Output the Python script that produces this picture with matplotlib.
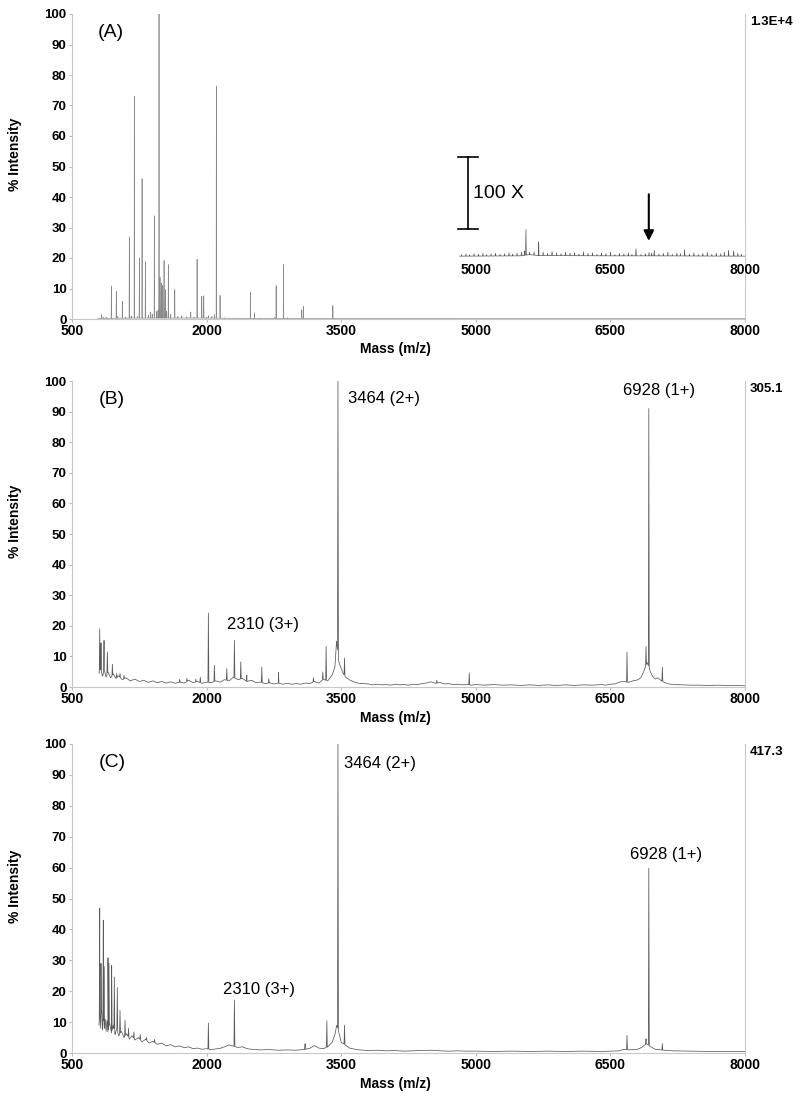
import numpy as np
import matplotlib
matplotlib.use('Agg')
import matplotlib.pyplot as plt

plt.rcParams['font.family'] = ['Liberation Sans', 'DejaVu Sans']

# ---- data (mass m/z, % intensity) ----
mass_ticks = [500, 2000, 3500, 5000, 6500, 8000]
inset_ticks = [5000, 6500, 8000]
panel_tags = ['(A)', '(B)', '(C)']
full_scale = ['1.3E+4', '305.1', '417.3']

# panel A: main spectrum
a_base_m = [780, 800, 1200, 1600, 2000, 2400, 2800, 3200, 3600, 4000, 5000, 6000, 7000, 8000]
a_base_y = [0.0, 0.2, 0.3, 0.3, 0.3, 0.2, 0.2, 0.2, 0.15, 0.15, 0.1, 0.1, 0.1, 0.1]
a_peaks = [(831, 1.4), (850, 0.5), (880, 0.6), (939, 10.7), (994, 9.0), (1010, 0.8),
           (1061, 5.8), (1100, 0.6), (1139, 26.8), (1160, 1.0), (1195, 73.0), (1230, 0.8),
           (1251, 20.0), (1281, 46.0), (1318, 18.8), (1350, 1.2), (1377, 2.3), (1395, 1.5),
           (1418, 33.8), (1445, 2.5), (1460, 3.0), (1470, 100.0), (1481, 13.7), (1496, 11.8),
           (1511, 11.0), (1526, 19.2), (1541, 9.6), (1555, 2.5), (1574, 17.8), (1600, 1.5),
           (1645, 9.6), (1680, 0.8), (1723, 1.0), (1780, 0.7), (1823, 2.3), (1860, 0.6),
           (1894, 19.6), (1946, 7.4), (1968, 7.6), (2000, 0.5), (2020, 1.1), (2060, 0.8),
           (2087, 1.4), (2109, 76.3), (2150, 7.7), (2200, 0.4), (2300, 0.3), (2489, 8.7),
           (2533, 2.0), (2600, 0.3), (2760, 0.5), (2775, 10.9), (2857, 17.8), (2900, 0.4),
           (3061, 3.0), (3080, 4.1), (3407, 4.4)]

# panel A: 100 X inset (magnified intensity)
inset_base_m = [4820, 5500, 5540, 5600, 5700, 6500, 7000, 8000]
inset_base_y = [0.3, 0.4, 0.6, 0.8, 0.5, 0.4, 0.4, 0.3]
inset_peaks = [(4840, 0.8), (4890, 1.0), (4930, 0.7), (4980, 1.1), (5030, 0.9), (5080, 1.2),
               (5120, 0.8), (5170, 1.0), (5220, 1.3), (5270, 0.9), (5320, 1.1), (5370, 1.4),
               (5410, 1.0), (5460, 1.3), (5510, 1.6), (5540, 2.0), (5559, 9.0), (5600, 1.5),
               (5650, 1.7), (5700, 4.9), (5750, 1.6), (5800, 1.2), (5850, 1.8), (5900, 1.4),
               (5950, 1.1), (6000, 1.6), (6050, 1.3), (6100, 1.5), (6150, 1.0), (6200, 1.7),
               (6250, 1.2), (6300, 1.4), (6350, 0.9), (6400, 1.3), (6450, 1.1), (6500, 1.5),
               (6550, 0.8), (6600, 1.2), (6650, 1.0), (6700, 1.4), (6740, 0.9), (6785, 2.7),
               (6840, 0.8), (6890, 1.1), (6930, 1.5), (6960, 1.3), (6989, 2.2), (7040, 1.0),
               (7090, 1.2), (7140, 1.6), (7190, 0.9), (7240, 1.3), (7280, 1.1), (7327, 2.4),
               (7380, 1.0), (7430, 1.4), (7480, 0.8), (7530, 1.2), (7580, 1.5), (7630, 0.9),
               (7680, 1.3), (7730, 1.1), (7770, 1.6), (7817, 2.2), (7873, 2.0), (7920, 1.2),
               (7960, 0.9)]

# panel B
b_base_m = [800, 820, 840, 860, 880, 900, 930, 960, 990, 1020, 1060, 1100, 1150, 1200, 1250,
            1300, 1350, 1400, 1450, 1500, 1550, 1600, 1650, 1700, 1750, 1800, 1850, 1900,
            1950, 2000, 2050, 2100, 2150, 2200, 2250, 2300, 2350, 2400, 2450, 2500, 2550,
            2600, 2650, 2700, 2750, 2800, 2850, 2900, 2950, 3000, 3050, 3100, 3150, 3200,
            3250, 3300, 3350, 3400, 3430, 3448, 3475, 3500, 3520, 3550, 3600, 3650, 3700,
            3800, 3850, 3900, 3950, 4000, 4050, 4100, 4150, 4200, 4250, 4300, 4350, 4400,
            4450, 4500, 4550, 4600, 4650, 4700, 4750, 4800, 4850, 4900, 4950, 5000, 5100,
            5200, 5300, 5400, 5500, 5600, 5700, 5800, 5900, 6000, 6100, 6200, 6300, 6400,
            6450, 6500, 6550, 6600, 6650, 6700, 6750, 6800, 6840, 6870, 6910, 6945, 6970,
            7000, 7030, 7060, 7100, 7150, 7200, 7300, 7400, 7500, 7600, 7700, 7800, 7900, 8000]
b_base_y = [4.5, 6.0, 3.5, 5.5, 3.2, 4.8, 3.0, 4.2, 2.8, 3.6, 2.4, 3.0, 2.0, 2.6, 1.8,
            2.2, 1.5, 2.0, 1.4, 1.8, 1.3, 1.7, 1.2, 1.6, 1.3, 2.2, 1.4, 1.8,
            1.2, 1.6, 1.4, 2.0, 1.6, 2.4, 2.0, 3.2, 2.4, 2.8, 1.8, 2.2, 1.4,
            1.6, 1.1, 1.4, 1.0, 1.3, 0.9, 1.2, 0.9, 1.1, 0.9, 1.3, 1.1, 1.8,
            1.3, 2.5, 2.0, 4.0, 6.5, 15.0, 8.0, 6.0, 4.5, 3.2, 2.2, 1.6, 1.2,
            1.0, 0.7, 0.9, 0.7, 0.8, 0.6, 0.9, 0.7, 0.8, 0.6, 0.9, 0.8, 1.1,
            1.3, 1.7, 1.2, 1.5, 1.0, 1.1, 0.8, 0.9, 0.7, 0.9, 0.6, 0.8, 0.6,
            0.8, 0.6, 0.7, 0.5, 0.7, 0.5, 0.7, 0.5, 0.7, 0.5, 0.7, 0.6, 0.8,
            0.6, 0.9, 1.0, 1.6, 1.8, 1.5, 2.0, 2.3, 3.0, 5.0, 8.0, 5.0, 3.5,
            2.6, 3.0, 2.2, 1.5, 1.0, 0.8, 0.7, 0.6, 0.6, 0.5, 0.6, 0.5, 0.5, 0.4]
b_peaks = [(809, 19.0), (823, 14.4), (857, 15.2), (894, 11.4), (950, 7.4), (998, 4.4),
           (1035, 4.4), (1080, 3.8), (1700, 2.4), (1780, 2.8), (1880, 2.6), (1930, 3.2),
           (2020, 24.2), (2087, 7.1), (2225, 6.0), (2310, 15.2), (2381, 8.2), (2448, 3.8),
           (2615, 6.5), (2693, 2.7), (2801, 4.7), (3191, 3.0), (3295, 4.9), (3332, 13.3),
           (3464, 100.0), (3537, 9.5), (4566, 2.2), (4927, 4.6),
           (6685, 11.4), (6897, 13.3), (6928, 91.0), (7079, 6.5)]

# panel C
c_base_m = [800, 810, 820, 830, 840, 850, 860, 870, 880, 890, 900, 920, 940, 960, 980, 1000,
            1020, 1050, 1080, 1110, 1140, 1170, 1200, 1240, 1280, 1320, 1360, 1400, 1450,
            1500, 1550, 1600, 1650, 1700, 1750, 1800, 1850, 1900, 1950, 2000, 2050, 2100,
            2150, 2200, 2250, 2300, 2350, 2400, 2450, 2500, 2600, 2700, 2800, 2900, 3000,
            3100, 3150, 3200, 3250, 3300, 3350, 3400, 3430, 3450, 3480, 3500, 3550, 3600,
            3700, 3800, 3900, 4000, 4100, 4200, 4300, 4400, 4500, 4600, 4700, 4800, 4900,
            5000, 5200, 5400, 5600, 5800, 6000, 6200, 6400, 6500, 6600, 6650, 6700, 6800,
            6850, 6900, 6950, 7000, 7100, 7200, 7400, 7600, 7800, 8000]
c_base_y = [9.0, 13.0, 8.0, 14.0, 7.5, 12.0, 8.0, 11.0, 7.0, 10.5, 6.8, 9.5, 6.5, 9.0, 6.0, 8.0,
            5.5, 7.0, 5.0, 6.2, 4.5, 5.6, 4.2, 5.0, 3.6, 4.4, 3.2, 3.8, 2.8,
            3.2, 2.3, 2.7, 2.0, 2.3, 1.7, 2.0, 1.4, 1.6, 1.2, 1.4, 1.1, 1.3,
            1.5, 2.0, 2.6, 2.2, 1.8, 2.0, 1.4, 1.2, 1.0, 1.1, 0.9, 1.0, 0.9,
            1.2, 1.5, 2.4, 1.6, 1.4, 2.0, 3.5, 6.0, 9.0, 6.0, 3.5, 2.5, 1.5,
            1.0, 0.8, 0.9, 0.7, 0.8, 0.6, 0.7, 0.8, 0.9, 0.7, 0.6, 0.7, 0.6,
            0.6, 0.5, 0.6, 0.5, 0.6, 0.5, 0.6, 0.5, 0.6, 0.7, 1.2, 1.0, 1.2,
            1.8, 3.0, 2.0, 1.2, 0.9, 0.7, 0.6, 0.5, 0.5, 0.5]
c_peaks = [(809, 46.8), (823, 29.0), (849, 43.0), (856, 28.0), (901, 30.8), (912, 29.0),
           (942, 28.4), (972, 24.6), (1005, 21.2), (1035, 13.8), (1091, 10.6), (1130, 8.0),
           (1190, 6.8), (1260, 6.0), (1330, 5.0), (1420, 4.4), (2020, 9.7),
           (2310, 17.1), (3098, 3.0), (3340, 10.4), (3464, 100.0), (3537, 9.0),
           (6685, 5.7), (6897, 4.6), (6928, 59.8), (7079, 3.0)]

# peak labels: (text, left mass, intensity)
b_labels = [('2310 (3+)', 2228, 20.3), ('3464 (2+)', 3574, 94.4), ('6928 (1+)', 6644, 96.8)]
c_labels = [('2310 (3+)', 2185, 20.7), ('3464 (2+)', 3534, 93.8), ('6928 (1+)', 6722, 64.4)]


def build_trace(base_m, base_y, peaks, hw):
    m = list(base_m)
    y = list(base_y)
    for pm, ph in peaks:
        feet = np.interp([pm - hw, pm + hw], base_m, base_y)
        m += [pm - hw, pm, pm + hw]
        y += [feet[0], ph, feet[1]]
    order = np.argsort(m, kind='stable')
    return np.array(m)[order], np.array(y)[order]


def style_axes(ax, tag, scale):
    ax.set_xlim(500, 8000)
    ax.set_ylim(0, 100)
    ax.set_xticks(mass_ticks)
    ax.set_yticks(range(0, 101, 10))
    ax.tick_params(axis='x', labelsize=10, length=2, color='#bbbbbb', pad=1.5)
    ax.tick_params(axis='y', labelsize=9.5, length=2, color='#bbbbbb', pad=2)
    for lab in ax.get_xticklabels() + ax.get_yticklabels():
        lab.set_fontweight('bold')
    ax.spines['top'].set_visible(False)
    for s in ['left', 'bottom', 'right']:
        ax.spines[s].set_color('#c8c8c8')
        ax.spines[s].set_linewidth(0.8)
    ax.text(-0.085, 0.54, '% Intensity', transform=ax.transAxes, rotation=90,
            ha='center', va='center', fontsize=10, fontweight='bold')
    ax.text(0.481, -0.10, 'Mass (m/z)', transform=ax.transAxes,
            ha='center', va='center', fontsize=10, fontweight='bold')
    ax.text(1.007, 0.973, scale, transform=ax.transAxes,
            ha='left', va='center', fontsize=9.5, fontweight='bold')
    ax.text(0.04, 0.94, tag, transform=ax.transAxes,
            ha='left', va='center', fontsize=14)


fig = plt.figure(figsize=(8, 10.99), dpi=100)
W, H = 800, 1099
ax_a = fig.add_axes([72 / W, 1 - 319 / H, 673 / W, 305 / H])
ax_b = fig.add_axes([72 / W, 1 - 687 / H, 673 / W, 306 / H])
ax_c = fig.add_axes([72 / W, 1 - 1053 / H, 673 / W, 309 / H])

# ---- panel A ----
m, y = build_trace(a_base_m, a_base_y, a_peaks, 2.5)
ax_a.plot(m, y, color='#8a8a8a', lw=0.5)
style_axes(ax_a, panel_tags[0], full_scale[0])
ax_a.texts[-1].set_position((0.038, 0.938))

ax_in = ax_a.inset_axes([4800, 9.5, 3200, 21.3], transform=ax_a.transData)
m, y = build_trace(inset_base_m, inset_base_y, inset_peaks, 4)
ax_in.plot(m, y, color='#555555', lw=0.5)
ax_in.set_xlim(4800, 8000)
ax_in.set_ylim(-10.8, 10.5)
ax_in.set_facecolor('white')
for s in ax_in.spines.values():
    s.set_visible(False)
ax_in.spines['bottom'].set_position(('data', 0))
ax_in.set_yticks([])
ax_in.set_xticks(inset_ticks)
ax_in.tick_params(axis='x', length=0, pad=4, labelsize=10)
for lab in ax_in.get_xticklabels():
    lab.set_fontweight('bold')
# 100 X scale bar and arrow
ax_in.plot([4915, 4915], [9.2, 32.7], color='black', lw=1.2, clip_on=False)
ax_in.plot([4800, 5030], [9.2, 9.2], color='black', lw=1.2, clip_on=False)
ax_in.plot([4800, 5030], [32.7, 32.7], color='black', lw=1.2, clip_on=False)
ax_in.text(4965, 21, '100 X', ha='left', va='center', fontsize=14)
ax_in.annotate('', xy=(6928, 4.4), xytext=(6928, 21.5), annotation_clip=False,
               arrowprops=dict(arrowstyle='-|>', color='black', lw=1.5, mutation_scale=15))

# ---- panels B and C ----
for ax, bm, by, pk, labels, tag, scale in [
        (ax_b, b_base_m, b_base_y, b_peaks, b_labels, panel_tags[1], full_scale[1]),
        (ax_c, c_base_m, c_base_y, c_peaks, c_labels, panel_tags[2], full_scale[2])]:
    m, y = build_trace(bm, by, pk, 5)
    ax.plot(m, y, color='#5a5a5a', lw=0.55)
    style_axes(ax, tag, scale)
    for txt, lm, li in labels:
        ax.text(lm, li, txt, ha='left', va='center', fontsize=12)

fig.savefig('out.png', dpi=100)
